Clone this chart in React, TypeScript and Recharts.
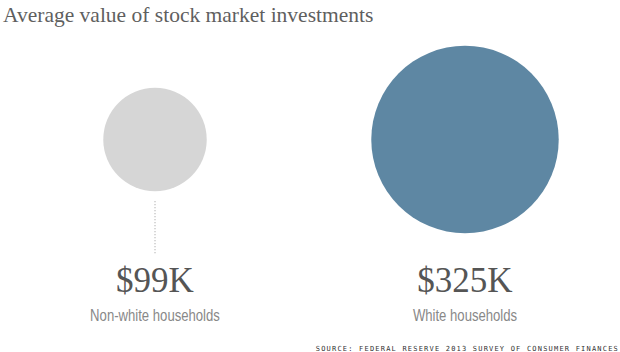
import React from "react";
import { ScatterChart, Scatter, XAxis, YAxis, ZAxis, Cell } from "recharts";

// Average value of stock market investments, thousands of dollars
const groups = ["Non-white households", "White households"];
const values = [99, 325];
const valueLabels = ["$99K", "$325K"];
const colors = ["#d6d6d6", "#5e87a3"];

const data = groups.map((group, i) => ({
  group,
  row: "average",
  value: values[i],
  label: valueLabels[i],
}));

const BubbleWithLabels = (props: any) => {
  const { cx, cy, size, width, fill, payload } = props;
  const r = size != null ? Math.sqrt(size / Math.PI) : width / 2;
  // leader line only when the bubble sits well above its label
  const lineTop = cy + r + 10;
  const lineBottom = cy + 115;
  return (
    <g>
      <circle cx={cx} cy={cy} r={r} fill={fill} />
      {lineBottom - lineTop > 20 && (
        <line
          x1={cx}
          x2={cx}
          y1={lineTop}
          y2={lineBottom}
          stroke="#9a9a9a"
          strokeWidth={1}
          strokeDasharray="1 2"
        />
      )}
      <text
        x={cx}
        y={cy + 152}
        textAnchor="middle"
        fontFamily="'Liberation Serif', serif"
        fontSize={35}
        fill="#555"
      >
        {payload.label}
      </text>
      {/* narrow sans: squeeze Liberation Sans horizontally */}
      <text
        transform={`translate(${cx} ${cy + 181}) scale(0.82 1)`}
        textAnchor="middle"
        fontFamily="'Liberation Sans', Arial, sans-serif"
        fontSize={16}
        fill="#888"
      >
        {payload.group}
      </text>
    </g>
  );
};

export default function App() {
  return (
    <div
      style={{
        position: "absolute",
        left: 0,
        top: 0,
        width: 620,
        height: 352,
        background: "#fff",
      }}
    >
      <ScatterChart
        width={620}
        height={352}
        margin={{ top: 30, right: 0, bottom: 103, left: 0 }}
      >
        <XAxis dataKey="group" type="category" hide allowDuplicatedCategory={false} />
        <YAxis dataKey="row" type="category" hide allowDuplicatedCategory={false} />
        <ZAxis dataKey="value" type="number" domain={[0, 325]} range={[0, 27600]} />
        <Scatter data={data} shape={BubbleWithLabels} isAnimationActive={false}>
          {data.map((d, i) => (
            <Cell key={d.group} fill={colors[i]} />
          ))}
        </Scatter>
      </ScatterChart>
      <svg
        width={620}
        height={352}
        style={{ position: "absolute", left: 0, top: 0, pointerEvents: "none" }}
      >
        <text
          x={3}
          y={22}
          fontFamily="'Liberation Serif', serif"
          fontSize={21.5}
          fill="#5f5f5f"
        >
          Average value of stock market investments
        </text>
        <text
          x={619}
          y={351}
          textAnchor="end"
          fontFamily="'DejaVu Sans Mono', monospace"
          fontSize={7}
          letterSpacing={1.2}
          fill="#333"
        >
          SOURCE: FEDERAL RESERVE 2013 SURVEY OF CONSUMER FINANCES
        </text>
      </svg>
    </div>
  );
}
